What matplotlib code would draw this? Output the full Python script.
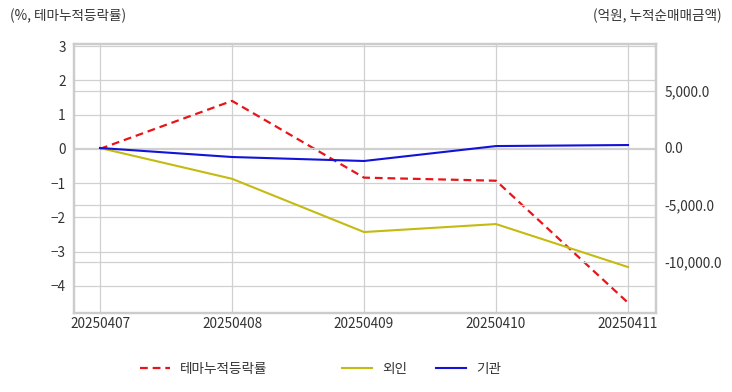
import matplotlib
matplotlib.use('Agg')
import matplotlib.pyplot as plt
from matplotlib.lines import Line2D
from matplotlib.ticker import FuncFormatter

plt.rcParams['font.family'] = ['Noto Sans CJK KR', 'DejaVu Sans']

dates = ['20250407', '20250408', '20250409', '20250410', '20250411']
theme_rate = [0.0, 1.40, -0.84, -0.93, -4.49]      # %, left axis
foreign = [0.0, -2700.0, -7370.0, -6670.0, -10440.0]  # 억원, right axis
inst = [0.0, -790.0, -1140.0, 170.0, 260.0]          # 억원, right axis

C_RED = '#e8141b'; C_YEL = '#c4bb12'; C_BLUE = '#1212d8'
GRID = '#d0d0d0'; TXT = '#333333'
FS = 9.8

fig = plt.figure(figsize=(7.32, 3.92), dpi=100)
ax = fig.add_axes([74/732, 1-313/392, (656-74)/732, (313-44)/392])
ax2 = ax.twinx()

x = list(range(len(dates)))
ax.plot(x, theme_rate, color=C_RED, lw=1.6, ls=(0, (3.5, 2.2)), zorder=3)
ax2.plot(x, foreign, color=C_YEL, lw=1.5, zorder=3)
ax2.plot(x, inst, color=C_BLUE, lw=1.5, zorder=3)

ax.set_xlim(-26/132, 4 + 28/132)
ax.set_ylim(-4.79, 3.06)
ax2.set_ylim(-14470, 9120)
ax.set_yticks(range(-4, 4))
ax2.set_yticks([-10000, -5000, 0, 5000])
ax2.yaxis.set_major_formatter(FuncFormatter(lambda v, p: f'{v:,.1f}'))
ax.set_xticks(x)
ax.set_xticklabels(dates)

for a in (ax, ax2):
    a.tick_params(length=0, labelsize=FS, colors=TXT, pad=6)
    for s in a.spines.values():
        s.set_color('#cccccc')
        s.set_linewidth(1.6)
ax.grid(True, color=GRID, lw=0.9)
ax.set_axisbelow(True)
ax2.grid(True, axis='y', color=GRID, lw=0.9)
ax2.set_axisbelow(True)
ax.tick_params(axis='x', pad=3)

fig.text(10/732, 1-16/392, '(%, 테마누적등락률)', fontsize=FS, color=TXT, va='center', ha='left')
fig.text(722/732, 1-16/392, '(억원, 누적순매매금액)', fontsize=FS, color=TXT, va='center', ha='right')

# legend: one entry per item, placed like the reference
items = [
    (Line2D([], [], color=C_RED, lw=1.6, ls=(0, (3.5, 2.2))), '테마누적등락률', 140),
    (Line2D([], [], color=C_YEL, lw=1.5), '외인', 342),
    (Line2D([], [], color=C_BLUE, lw=1.5), '기관', 436),
]
for h, lab, px in items:
    lg = fig.legend([h], [lab], loc='center left', bbox_to_anchor=(px/732, 1-369/392),
                    frameon=False, fontsize=FS, handlelength=2.2, handletextpad=0.75,
                    borderaxespad=0, borderpad=0, labelcolor=TXT)

fig.savefig('out.png', dpi=100)
